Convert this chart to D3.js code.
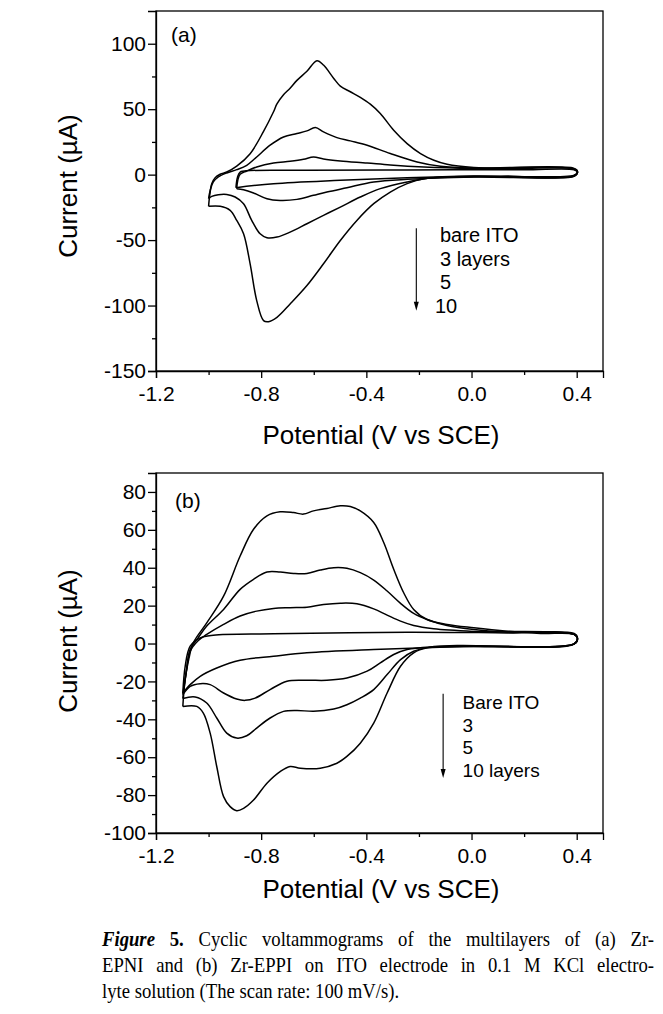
<!DOCTYPE html>
<html><head><meta charset="utf-8">
<script src="https://cdn.jsdelivr.net/npm/d3@7"></script>
<style>
html,body{margin:0;padding:0;background:#fff;}
svg{display:block;}
</style></head>
<body>
<script>
// ---------- DATA ----------
const xTicks = [-1.2, -0.8, -0.4, 0.0, 0.4];
const xMinorTicks = [-1.0, -0.6, -0.2, 0.2];
const yTicksA = [-150, -100, -50, 0, 50, 100];
const yMinorA = [-125, -75, -25, 25, 75];
const yTicksB = [-100, -80, -60, -40, -20, 0, 20, 40, 60, 80];
const yMinorB = [-90, -70, -50, -30, -10, 10, 30, 50, 70];

const legendA = ["bare ITO", "3 layers", "5", "10"];
const legendB = ["Bare ITO", "3", "5", "10 layers"];

// Panel (a) loops: [potential V, current µA]
const aBare = [[-0.896,-10],[-0.89,-2],[-0.88,2],[-0.842,3.1],[-0.626,3.3],[-0.245,3.6],[0.2,3.7],[0.39,3.7],[0.403,1.8],[0.39,-0.4],[0.009,-1],[-0.245,-2.3],[-0.499,-4.3],[-0.753,-6.9],[-0.896,-10]];
const a3 = [[-0.893,-10.7],[-0.889,-4.3],[-0.88,0.3],[-0.855,2.8],[-0.817,5.9],[-0.753,8.9],[-0.69,10.2],[-0.639,11.7],[-0.601,13.5],[-0.563,12],[-0.499,10.5],[-0.397,8.9],[-0.309,7.4],[-0.181,5.9],[0.009,4.8],[0.39,4.3],[0.403,2],[0.39,-1],[0.009,-1.8],[-0.245,-3.6],[-0.372,-5.6],[-0.474,-10],[-0.55,-13.3],[-0.601,-15.8],[-0.664,-18.9],[-0.728,-19.7],[-0.778,-18.4],[-0.829,-14],[-0.867,-11.5],[-0.893,-10.7]];
const a5 = [[-1.0,-18.4],[-0.994,-12],[-0.982,-5.6],[-0.963,-1.8],[-0.931,1.3],[-0.893,3.8],[-0.855,7.1],[-0.817,13.5],[-0.766,22.5],[-0.715,28.8],[-0.664,31.4],[-0.626,33.4],[-0.594,36],[-0.563,32.7],[-0.512,28.3],[-0.461,25.8],[-0.397,22.5],[-0.309,16.1],[-0.207,9.7],[-0.118,6.4],[0.009,5],[0.39,4.8],[0.403,2.5],[0.39,-0.8],[0.009,-1.3],[-0.156,-2.6],[-0.245,-5.6],[-0.347,-10.7],[-0.423,-17.1],[-0.499,-24.8],[-0.563,-31.1],[-0.626,-37.5],[-0.69,-43.9],[-0.74,-47.7],[-0.778,-48.2],[-0.804,-45.2],[-0.836,-35],[-0.867,-22.2],[-0.899,-17.1],[-0.931,-15.1],[-0.963,-15.3],[-0.988,-16.6],[-1.0,-18.4]];
const a10 = [[-1.0,-24.2],[-0.998,-19.7],[-0.994,-13.3],[-0.988,-6.9],[-0.975,-2.3],[-0.956,0.3],[-0.931,2],[-0.893,6.5],[-0.842,16],[-0.791,33],[-0.753,48],[-0.74,54],[-0.715,61],[-0.69,66],[-0.664,72],[-0.626,79],[-0.588,87],[-0.563,83.7],[-0.524,73.5],[-0.499,67.6],[-0.461,63.3],[-0.423,59],[-0.385,53.8],[-0.347,46.7],[-0.296,33.9],[-0.245,23.7],[-0.194,16.1],[-0.143,11],[-0.093,7.9],[0.009,5.4],[0.136,4.6],[0.39,4.3],[0.403,2],[0.39,-1.3],[0.136,-1.3],[-0.055,-1.8],[-0.182,-3.1],[-0.245,-6.9],[-0.309,-13.3],[-0.372,-22.2],[-0.436,-35],[-0.499,-50.3],[-0.563,-68.1],[-0.626,-84.7],[-0.69,-98.8],[-0.74,-109],[-0.772,-112.3],[-0.791,-111.5],[-0.817,-96.2],[-0.842,-68.1],[-0.867,-45.2],[-0.893,-35],[-0.918,-27.3],[-0.956,-24.2],[-1.0,-24.2]];

// Panel (b) loops
const bBare = [[-1.098,-26.1],[-1.089,-12],[-1.07,-1.4],[-1.032,3],[-0.982,4.4],[-0.753,5.1],[-0.245,6],[0.136,5.6],[0.39,5.3],[0.403,3],[0.39,-0.3],[0.009,-1.4],[-0.372,-3.2],[-0.626,-4.9],[-0.753,-6.7],[-0.88,-8.8],[-0.969,-12.9],[-1.032,-17.3],[-1.07,-21.7],[-1.098,-26.1]];
const b3 = [[-1.098,-27],[-1.085,-15],[-1.07,-4.1],[-1.04,1.5],[-1.007,4.8],[-0.943,10.1],[-0.88,14.5],[-0.817,17.1],[-0.753,18.5],[-0.69,18.9],[-0.626,19.2],[-0.563,20.6],[-0.499,21.3],[-0.436,21],[-0.372,18.3],[-0.321,15],[-0.27,11.8],[-0.22,9.5],[-0.144,7.8],[0.009,6.4],[0.39,4.8],[0.403,2.5],[0.39,-0.2],[0.009,-1.4],[-0.156,-1.8],[-0.245,-3.2],[-0.296,-5.8],[-0.347,-10.2],[-0.397,-14.6],[-0.474,-18.2],[-0.55,-19.4],[-0.626,-19.4],[-0.702,-19.9],[-0.766,-24.3],[-0.823,-28.8],[-0.861,-30],[-0.893,-29.3],[-0.943,-26.1],[-0.994,-21.7],[-1.032,-21.2],[-1.07,-22.6],[-1.098,-27]];
const b5 = [[-1.098,-29],[-1.085,-15],[-1.07,-3],[-1.04,3],[-1.007,9.2],[-0.943,18],[-0.88,28.6],[-0.829,33.9],[-0.778,37.7],[-0.728,37.7],[-0.677,37],[-0.626,37],[-0.575,38.8],[-0.524,40],[-0.474,39.7],[-0.423,37.4],[-0.372,33.5],[-0.321,27.7],[-0.27,21.2],[-0.22,15.9],[-0.169,12.7],[-0.093,9.5],[0.009,7.4],[0.136,6],[0.39,4.8],[0.403,2.5],[0.39,-0.2],[-0.055,-1.1],[-0.156,-1.9],[-0.22,-4.1],[-0.27,-8.5],[-0.321,-16.4],[-0.372,-24.3],[-0.423,-28.8],[-0.474,-32.3],[-0.524,-34.6],[-0.601,-35.8],[-0.664,-35.3],[-0.715,-35.8],[-0.766,-39.3],[-0.817,-44.6],[-0.855,-48.7],[-0.893,-49.9],[-0.931,-47.3],[-0.969,-39.3],[-1.007,-31.4],[-1.051,-28.2],[-1.098,-29]];
const b10 = [[-1.098,-33.2],[-1.09,-20],[-1.075,-8],[-1.058,0.4],[-1.007,10.9],[-0.943,25],[-0.88,46.2],[-0.829,60.3],[-0.778,67.4],[-0.728,69.5],[-0.677,69.1],[-0.639,68.3],[-0.601,70],[-0.55,71.3],[-0.499,72.7],[-0.461,72.3],[-0.423,70],[-0.372,63.9],[-0.334,53.3],[-0.296,39.2],[-0.258,26.8],[-0.22,18],[-0.169,12.7],[-0.093,10.1],[0.009,8.3],[0.136,6.5],[0.263,5.3],[0.39,4.8],[0.403,2.5],[0.39,-0.2],[-0.169,-2.3],[-0.22,-4.9],[-0.27,-12],[-0.321,-26.1],[-0.372,-42],[-0.423,-52.6],[-0.474,-59.6],[-0.512,-63.2],[-0.575,-65.8],[-0.651,-65.8],[-0.69,-64.9],[-0.728,-67.6],[-0.778,-73.7],[-0.829,-82.6],[-0.867,-87],[-0.893,-88.2],[-0.918,-86.1],[-0.943,-80.8],[-0.969,-64.9],[-0.994,-47.3],[-1.02,-36.7],[-1.045,-33.2],[-1.098,-33.2]];

const captionLines = [
  "Cyclic voltammograms of the multilayers of (a) Zr-",
  "EPNI and (b) Zr-EPPI on ITO electrode in 0.1 M KCl electro-",
  "lyte solution (The scan rate: 100 mV/s)."
];

// ---------- DRAW ----------
const W = 663, H = 1014;
const svg = d3.select("body").append("svg").attr("width", W).attr("height", H);
const SANS = "'Liberation Sans', Arial, sans-serif";
const SERIF = "'Liberation Serif', 'Times New Roman', serif";

function panel(o) {
  const x = d3.scaleLinear().domain([-1.2, 0.5]).range([156, 603]);
  const y = d3.scaleLinear().domain(o.yDomain).range([o.bottom, o.top]);
  const g = svg.append("g");

  g.append("rect").attr("x", x.range()[0]).attr("y", o.top)
    .attr("width", x.range()[1] - x.range()[0]).attr("height", o.bottom - o.top)
    .attr("fill", "none").attr("stroke", "#000").attr("stroke-width", 1.3);

  g.append("g").attr("transform", `translate(0,${o.bottom})`)
    .call(d3.axisBottom(x).tickValues(xTicks).tickSize(7).tickPadding(8).tickFormat(d => d.toFixed(1)));
  g.append("g").attr("transform", `translate(0,${o.bottom})`)
    .call(d3.axisBottom(x).tickValues(xMinorTicks).tickSize(4).tickFormat(""))
    .select(".domain").remove();
  g.append("g").attr("transform", `translate(156,0)`)
    .call(d3.axisLeft(y).tickValues(o.yTicks).tickSize(8).tickPadding(2).tickFormat(d => String(d)));
  g.append("g").attr("transform", `translate(156,0)`)
    .call(d3.axisLeft(y).tickValues(o.yMinor).tickSize(4).tickFormat(""))
    .select(".domain").remove();
  g.selectAll(".tick line").attr("stroke", "#000").attr("stroke-width", 1.3);
  g.selectAll(".domain").attr("stroke", "#000").attr("stroke-width", 1.3);
  g.selectAll(".tick text").attr("fill", "#000").attr("font-family", SANS).attr("font-size", 21);

  g.append("text").attr("transform", `translate(68,${o.yLabelY}) rotate(-90)`)
    .attr("text-anchor", "middle").attr("dy", "0.35em")
    .attr("font-family", SANS).attr("font-size", 26).text("Current (\u00B5A)");
  g.append("text").attr("x", 381).attr("y", o.xLabelY).attr("text-anchor", "middle")
    .attr("font-family", SANS).attr("font-size", 26).text("Potential (V vs SCE)");

  const line = d3.line().x(d => x(d[0])).y(d => y(d[1])).curve(d3.curveCatmullRom.alpha(0.5));
  g.selectAll("path.cv").data(o.curves).enter().append("path").attr("class", "cv")
    .attr("d", line).attr("fill", "none").attr("stroke", "#000").attr("stroke-width", 1.5)
    .attr("stroke-linejoin", "round");

  g.append("text").attr("x", o.tagX).attr("y", o.tagY).attr("font-family", SANS)
    .attr("font-size", 21).text(o.tag);

  const ax0 = x(o.arrowV), ay0 = y(o.arrowI[0]), ay1 = y(o.arrowI[1]);
  g.append("line").attr("x1", ax0).attr("x2", ax0).attr("y1", ay0).attr("y2", ay1 - 6)
    .attr("stroke", "#000").attr("stroke-width", 1.1);
  g.append("path").attr("d", `M${ax0 - 2.5},${ay1 - 9} L${ax0 + 2.5},${ay1 - 9} L${ax0},${ay1} Z`).attr("fill", "#000");
  o.legend.forEach((t, i) => {
    g.append("text").attr("x", (o.legendXs && o.legendXs[i]) || x(o.legendV))
      .attr("y", o.legendY0 + i * o.legendDy).attr("font-family", SANS)
      .attr("font-size", o.legendFs).text(t);
  });
}

panel({
  yDomain: [-150, 125], top: 11, bottom: 371, yTicks: yTicksA, yMinor: yMinorA,
  yLabelY: 186, xLabelY: 444, curves: [aBare, a3, a5, a10], tag: "(a)", tagX: 171, tagY: 42,
  arrowV: -0.21, arrowI: [-41, -104], legend: legendA, legendV: -0.118,
  legendXs: [440, 440, 440, 435], legendY0: 242, legendDy: 23.7, legendFs: 20
});
panel({
  yDomain: [-100, 90], top: 473, bottom: 833, yTicks: yTicksB, yMinor: yMinorB,
  yLabelY: 641, xLabelY: 898, curves: [bBare, b3, b5, b10], tag: "(b)", tagX: 175, tagY: 508,
  arrowV: -0.108, arrowI: [-26.5, -71], legend: legendB, legendV: -0.034,
  legendXs: null, legendY0: 709, legendDy: 22.6, legendFs: 19
});

// caption (condensed Times look: horizontal scale), lines 1-2 justified
const capX = 102, capW = 552, capY0 = 946, capDy = 26, capFs = 21, capSx = 0.89;
captionLines.forEach((s, i) => {
  const t = svg.append("text").attr("x", 0).attr("y", 0)
    .attr("transform", `translate(${capX},${capY0 + i * capDy}) scale(${capSx},1)`)
    .attr("font-family", SERIF).attr("font-size", capFs).attr("fill", "#000");
  let nSpaces = (s.match(/ /g) || []).length;
  if (i === 0) {
    t.append("tspan").attr("font-weight", "bold").attr("font-style", "italic").text("Figure");
    t.append("tspan").attr("font-weight", "bold").text(" 5.");
    t.append("tspan").text(" " + s);
    nSpaces += 2;
  } else {
    t.append("tspan").text(s);
  }
  if (i < 2) {
    const w = t.node().getComputedTextLength();
    const ws = (capW / capSx - w) / nSpaces;
    t.attr("word-spacing", ws);
  }
});
</script>
</body></html>
